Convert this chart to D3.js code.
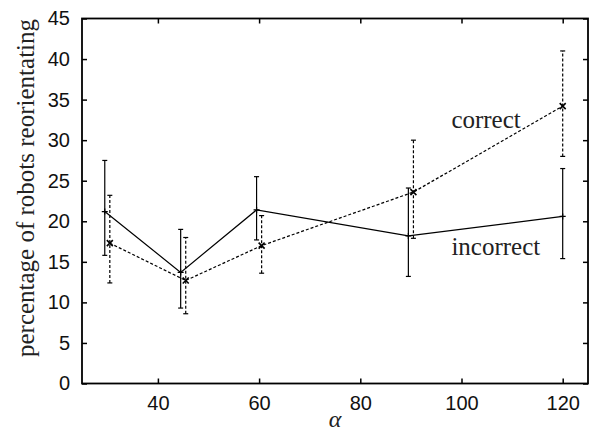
<!DOCTYPE html>
<html lang="en">
<head>
  <meta charset="UTF-8">
  <title>Robots reorientating</title>
  <script src="https://d3js.org/d3.v7.min.js"></script>
  <style>
    body { margin: 0; background: #fff; }
    .tick text { font-family: "Liberation Sans", Arial, sans-serif; font-size: 20px; fill: #111; }
    .lbl { font-family: "Liberation Serif", "Times New Roman", serif; fill: #222; }
  </style>
</head>
<body>
  <svg width="591" height="431"></svg>

  <script>
    // incorrect (solid line, + markers)
    const incAlpha = [29.5, 44.5, 59.5, 89.5, 120];
    const incMean  = [21.2, 13.7, 21.4, 18.2, 20.6];
    const incLow   = [15.8, 9.3, 17.7, 13.2, 15.4];
    const incHigh  = [27.5, 19.0, 25.5, 24.1, 26.5];

    // correct (dashed line, x markers)
    const corAlpha = [30.5, 45.5, 60.5, 90.5, 120];
    const corMean  = [17.3, 12.7, 17.0, 23.6, 34.2];
    const corLow   = [12.4, 8.6, 13.6, 17.9, 28.0];
    const corHigh  = [23.2, 18.0, 20.7, 30.0, 41.0];

    const xTicks = [40, 60, 80, 100, 120];
    const yTicks = [0, 5, 10, 15, 20, 25, 30, 35, 40, 45];

    const svg = d3.select("svg");
    const margin = { top: 18.5, right: 3, bottom: 47.5, left: 82 };
    const width = +svg.attr("width") - margin.left - margin.right;
    const height = +svg.attr("height") - margin.top - margin.bottom;

    const g = svg.append("g").attr("transform", `translate(${margin.left},${margin.top})`);

    const x = d3.scaleLinear().domain([25, 125]).range([0, width]);
    const y = d3.scaleLinear().domain([0, 45]).range([height, 0]);

    // Achsen mit Ticks nach innen, auf allen vier Seiten
    const axB = g.append("g").attr("transform", `translate(0,${height})`)
      .call(d3.axisBottom(x).tickValues(xTicks).tickSizeInner(-5).tickSizeOuter(0).tickPadding(12));
    const axT = g.append("g")
      .call(d3.axisTop(x).tickValues(xTicks).tickSizeInner(-5).tickSizeOuter(0).tickFormat(""));
    const axL = g.append("g")
      .call(d3.axisLeft(y).tickValues(yTicks).tickSizeInner(-5).tickSizeOuter(0).tickPadding(12));
    const axR = g.append("g").attr("transform", `translate(${width},0)`)
      .call(d3.axisRight(y).tickValues(yTicks).tickSizeInner(-5).tickSizeOuter(0).tickFormat(""));
    [axB, axT, axL, axR].forEach(a => {
      a.select(".domain").remove();
      a.selectAll(".tick line").attr("stroke", "#000").attr("stroke-width", 1.5);
    });

    g.append("rect")
      .attr("width", width).attr("height", height)
      .attr("fill", "none").attr("stroke", "#000").attr("stroke-width", 1.8);

    const series = [
      { a: incAlpha, m: incMean, lo: incLow, hi: incHigh, dash: null, mark: "plus" },
      { a: corAlpha, m: corMean, lo: corLow, hi: corHigh, dash: "3,2", mark: "cross" }
    ];

    const line = d3.line().x(d => x(d[0])).y(d => y(d[1]));

    series.forEach(s => {
      const pts = s.a.map((a, i) => [a, s.m[i], s.lo[i], s.hi[i]]);
      const sg = g.append("g").attr("stroke", "#000").attr("fill", "none").attr("stroke-width", 1.2);

      // Fehlerbalken
      pts.forEach(p => {
        const px = x(p[0]);
        sg.append("line").attr("x1", px).attr("x2", px).attr("y1", y(p[2])).attr("y2", y(p[3]))
          .attr("stroke-dasharray", s.dash);
        [p[2], p[3]].forEach(v => {
          sg.append("line").attr("x1", px - 2.5).attr("x2", px + 2.5).attr("y1", y(v)).attr("y2", y(v));
        });
      });

      sg.append("path").datum(pts).attr("d", line).attr("stroke-dasharray", s.dash);

      // Marker
      pts.forEach(p => {
        const px = x(p[0]), py = y(p[1]);
        if (s.mark === "plus") {
          sg.append("path").attr("d", `M${px - 3},${py}H${px + 3}M${px},${py - 3}V${py + 3}`);
        } else {
          sg.append("path").attr("stroke-width", 1.6)
            .attr("d", `M${px - 3},${py - 3}L${px + 3},${py + 3}M${px - 3},${py + 3}L${px + 3},${py - 3}`);
        }
      });
    });

    // Beschriftungen
    g.append("text").attr("class", "lbl").attr("font-size", 25)
      .attr("x", x(98)).attr("y", y(31.5)).text("correct");
    g.append("text").attr("class", "lbl").attr("font-size", 25)
      .attr("x", x(98)).attr("y", y(15.8)).text("incorrect");

    svg.append("text").attr("class", "lbl").attr("font-size", 25)
      .attr("transform", "translate(34,188) rotate(-90)")
      .attr("text-anchor", "middle")
      .text("percentage of robots reorientating");

    svg.append("text").attr("class", "lbl").attr("font-size", 24)
      .attr("font-style", "italic").attr("text-anchor", "middle")
      .attr("x", margin.left + width / 2).attr("y", 427)
      .text("α");
  </script>
</body>
</html>
